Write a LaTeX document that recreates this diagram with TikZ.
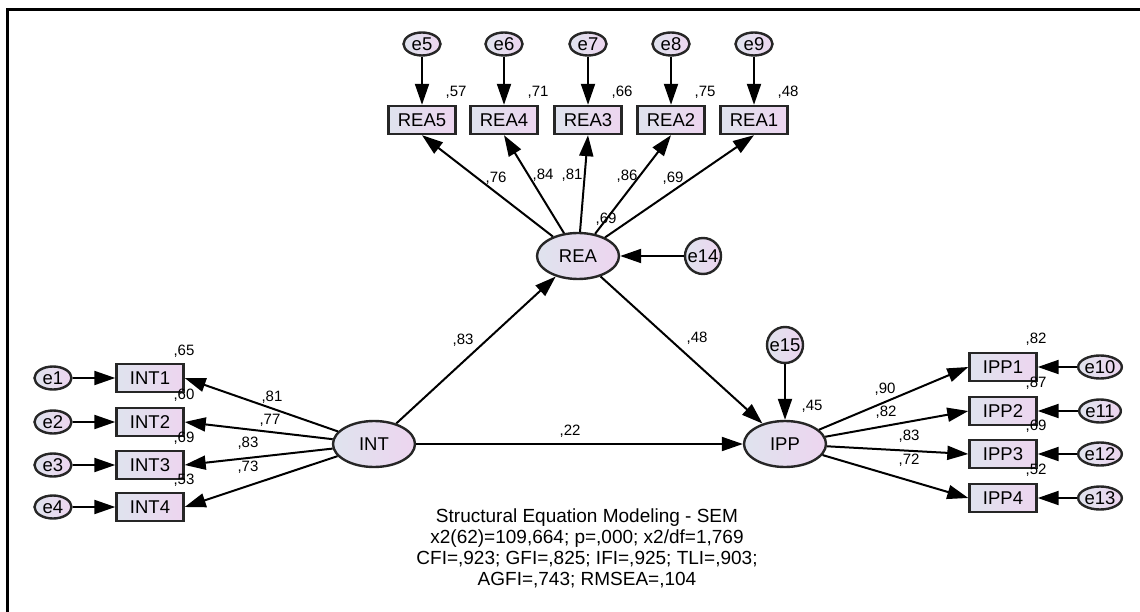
\documentclass[tikz,border=0pt]{standalone}
\usepackage{fontspec}
\setmainfont{Liberation Sans}
\usepackage{xcolor}
\usetikzlibrary{arrows.meta,positioning,calc,shapes.geometric}
\definecolor{shadeL}{HTML}{DFE3EE}
\definecolor{shadeR}{HTML}{EDD5EF}

\begin{document}
\begin{tikzpicture}[x=1pt,y=-1pt,>={Triangle[length=21pt,width=14pt]},line width=2pt]
\tikzstyle{obsbox}=[draw=black!85,line width=2.4pt,left color=shadeL,right color=shadeR,minimum width=67pt,minimum height=28pt,inner sep=0pt,font=\fontsize{18.5}{18}\selectfont]
\tikzstyle{latent}=[ellipse,draw=black!85,line width=2.4pt,left color=shadeL,right color=shadeR,minimum width=82pt,minimum height=46pt,inner sep=0pt,font=\fontsize{18.5}{18}\selectfont]
\tikzstyle{errell}=[ellipse,draw=black!85,line width=2.4pt,left color=shadeL,right color=shadeR,minimum width=37pt,minimum height=23pt,inner sep=0pt,font=\fontsize{18.5}{18}\selectfont]
\tikzstyle{errcirc}=[circle,draw=black!85,line width=2.4pt,left color=shadeL,right color=shadeR,minimum size=36pt,inner sep=0pt,font=\fontsize{18.5}{18}\selectfont]
\tikzstyle{coef}=[inner sep=0pt,font=\fontsize{15}{15}\selectfont]
\useasboundingbox (0,0) rectangle (1140,612);
\draw[line width=2.5pt] (7.5,612) -- (7.5,9.5) -- (1140,9.5);
% latent variables
\node[latent] (INT) at (374,444) {INT};
\node[latent] (REA) at (578,256) {REA};
\node[latent] (IPP) at (785,444) {IPP};
\node[errcirc] (e14) at (703,256) {e14};
\node[errcirc] (e15) at (785,345) {e15};
% REA indicators
\foreach \i/\e/\x/\sq/\lx/\ly/\w in {5/5/422/57/496/178/76,4/6/504/71/543/175/84,3/7/588/66/572/175/81,2/8/671/75/627/176/86,1/9/754/48/673/178/69}{
  \node[obsbox] (REA\i) at (\x,120) {REA\i};
  \node[errell] (e\e) at (\x,44) {e\e};
  \node[coef] (sqREA\i) at (\x+34,92) {,\sq};
  \node[coef] (wREA\i) at (\lx,\ly) {,\w};
  \draw[->] (e\e) -- (REA\i);
  \draw[->] (REA) -- (REA\i.south);
}
% INT indicators
\foreach \i/\y/\sq/\lx/\ly/\w in {1/378/65/272/397/81,2/422/60/270/420/77,3/465/69/248/443/83,4/507/53/248/467/73}{
  \node[obsbox] (INT\i) at (150,\y) {INT\i};
  \node[errell] (e\i) at (53,\y) {e\i};
  \node[coef] (sqINT\i) at (184,\y-27) {,\sq};
  \node[coef] (wINT\i) at (\lx,\ly) {,\w};
  \draw[->] (e\i) -- (INT\i);
  \draw[->] (INT) -- (INT\i.east);
}
% IPP indicators
\foreach \i/\e/\y/\sq/\lx/\ly/\w in {1/10/367/82/885/389/90,2/11/411/87/886/412/82,3/12/454/69/909/436/83,4/13/498/52/909/460/72}{
  \node[obsbox] (IPP\i) at (1003,\y) {IPP\i};
  \node[errell] (e\e) at (1100,\y) {e\e};
  \node[coef] (sqIPP\i) at (1036,\y-28) {,\sq};
  \node[coef] (wIPP\i) at (\lx,\ly) {,\w};
  \draw[->] (e\e) -- (IPP\i);
  \draw[->] (IPP) -- (IPP\i.west);
}
% structural paths
\draw[->] (INT) -- (REA);
\draw[->] (INT) -- (IPP);
\draw[->] (REA) -- (IPP);
\draw[->] (e14) -- (REA);
\draw[->] (e15) -- (IPP);
\node[coef] (wREAINT) at (463,340) {,83};
\node[coef] (wIPPINT) at (570,431) {,22};
\node[coef] (wIPPREA) at (697,338) {,48};
\node[coef] (sqREA) at (606,219) {,69};
\node[coef] (sqIPP) at (812,406) {,45};
\node[align=center,font=\fontsize{19}{21}\selectfont] (fit) at (587,548) {Structural Equation Modeling - SEM\\x2(62)=109,664; p=,000; x2/df=1,769\\CFI=,923; GFI=,825; IFI=,925; TLI=,903;\\AGFI=,743; RMSEA=,104};
\end{tikzpicture}
\end{document}
